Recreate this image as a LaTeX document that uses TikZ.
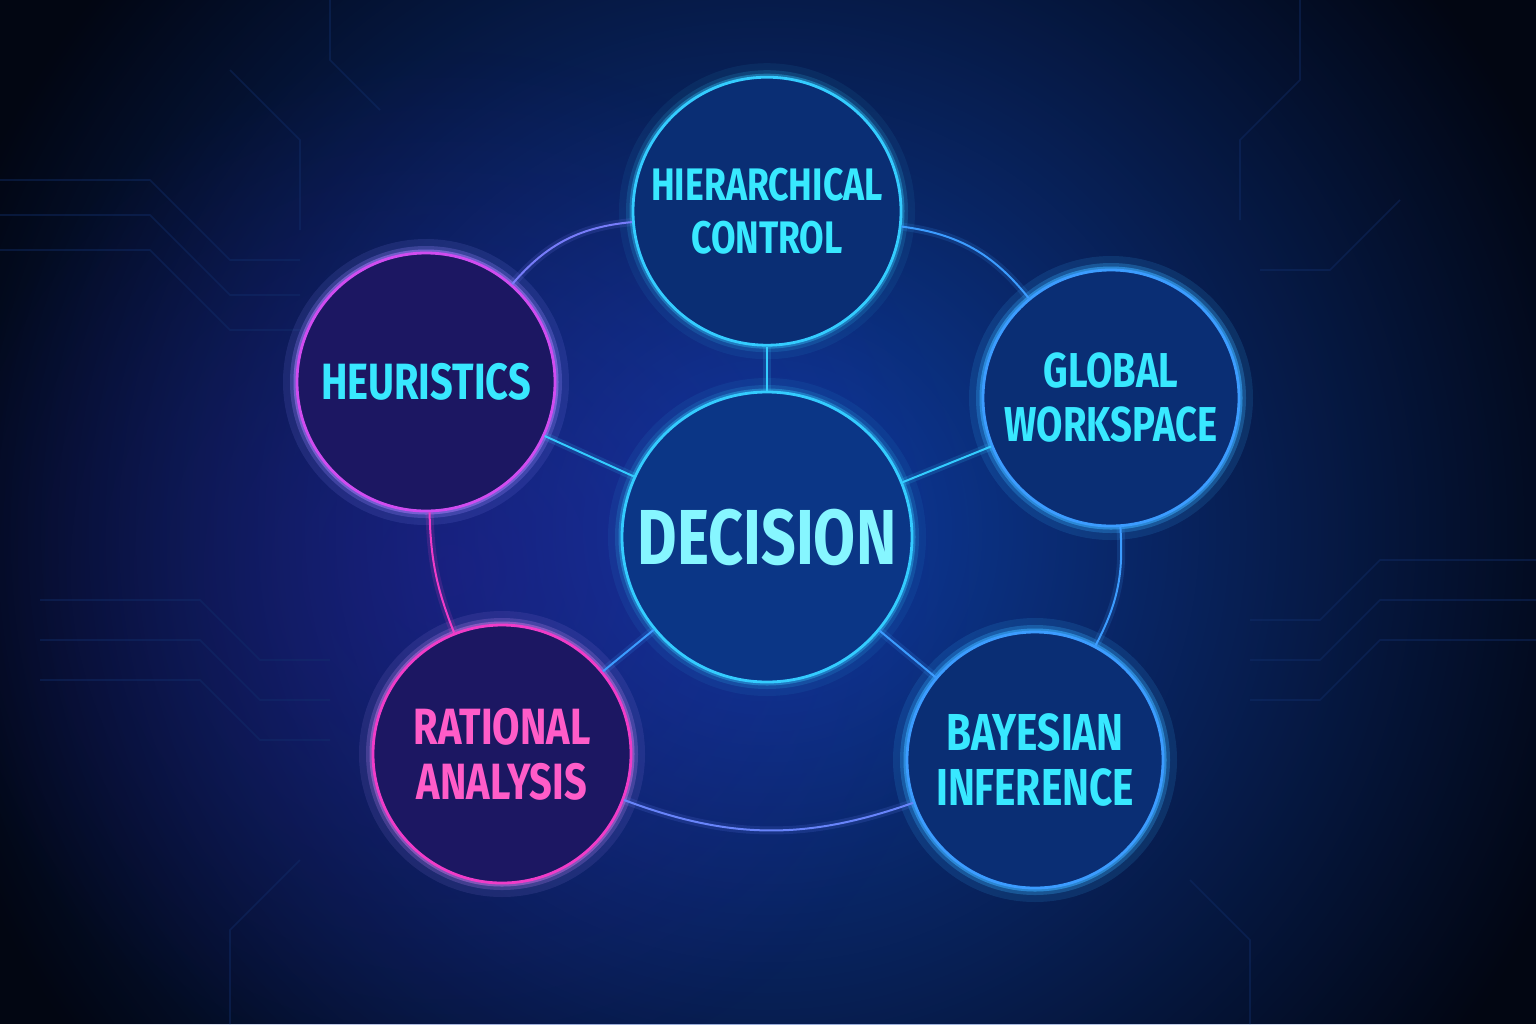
\documentclass[tikz,border=0pt]{standalone}
\usepackage{fontspec}
\setmainfont{Fira Sans}[FakeStretch=0.78]
\usetikzlibrary{positioning,fadings}

\definecolor{bgdark}{HTML}{020612}
\definecolor{bgglow}{HTML}{0E3EA4}
\definecolor{bgviolet}{HTML}{2C1898}
\definecolor{trace}{HTML}{12306E}
\definecolor{ringblue}{HTML}{34CCFF}
\definecolor{ringazure}{HTML}{3C9CFF}
\definecolor{ringviolet}{HTML}{D04CF0}
\definecolor{ringpink}{HTML}{F03CC8}
\definecolor{fillblue}{HTML}{0A2E74}
\definecolor{fillcore}{HTML}{0B3686}
\definecolor{fillviolet}{HTML}{1C1762}
\definecolor{textcyan}{HTML}{38E8FF}
\definecolor{textcore}{HTML}{86F6FF}
\definecolor{textpink}{HTML}{FF5CC8}

\tikzfading[name=glowfade, inner color=transparent!0, outer color=transparent!100]

\tikzset{
    glowring/.style={circle, draw=#1, line width=1.4pt,
        preaction={draw=#1, line width=14pt, opacity=0.07},
        preaction={draw=#1, line width=7pt, opacity=0.15},
        preaction={draw=#1, line width=3.5pt, opacity=0.35}},
    concept/.style={glowring=ringblue, fill=fillblue, text=textcyan, align=center,
        font=\bfseries\fontsize{25.5}{27.5}\selectfont},
    core/.style={concept, fill=fillcore, text=textcore, minimum size=145pt,
        font=\bfseries\fontsize{39}{44}\selectfont},
    azure/.style={concept, glowring=ringazure},
    violet/.style={concept, glowring=ringviolet, fill=fillviolet},
    pink/.style={concept, glowring=ringpink, fill=fillviolet, text=textpink},
    link/.style={draw=#1, line width=1pt,
        preaction={draw=#1, line width=4pt, opacity=0.15}},
    trace/.style={draw=trace, line width=0.8pt, opacity=0.4},
}

\begin{document}
\begin{tikzpicture}[x=0.5pt, y=-0.5pt]
    \useasboundingbox (0,0) rectangle (1536,1024);
    \clip (0,0) rectangle (1536,1024);
    % background
    \fill[bgdark] (0,0) rectangle (1536,1024);
    \fill[bgglow, path fading=glowfade] (767,530) circle (860);
    \fill[bgviolet, path fading=glowfade, opacity=0.45] (450,570) circle (520);
    % faint circuit traces
    \foreach \y in {180,215,250} {
        \draw[trace] (0,\y) -- (150,\y) -- (230,\y+80) -- (300,\y+80);
    }
    \draw[trace] (230,70) -- (300,140) -- (300,230);
    \draw[trace] (330,0) -- (330,60) -- (380,110);
    \foreach \y in {600,640,680} {
        \draw[trace] (40,\y) -- (200,\y) -- (260,\y+60) -- (330,\y+60);
    }
    \draw[trace] (230,1024) -- (230,930) -- (300,860);
    \foreach \y in {560,600,640} {
        \draw[trace] (1536,\y) -- (1380,\y) -- (1320,\y+60) -- (1250,\y+60);
    }
    \draw[trace] (1300,0) -- (1300,80) -- (1240,140) -- (1240,220);
    \draw[trace] (1400,200) -- (1330,270) -- (1260,270);
    \draw[trace] (1250,1024) -- (1250,940) -- (1190,880);

    % concepts
    \node[core]                                 (dec)   at (767,537) {DECISION};
    \node[concept, minimum size=134pt, above=22pt of dec,
          font=\bfseries\fontsize{22.8}{26.5}\selectfont] (hier) {HIERARCHICAL\\CONTROL};
    \node[violet, minimum size=129pt]           (heur)  at (426,382) {HEURISTICS};
    \node[azure, minimum size=128pt,
          font=\bfseries\fontsize{24.5}{27}\selectfont] (glob) at (1111,398) {GLOBAL\\WORKSPACE};
    \node[pink, minimum size=129pt]             (rat)   at (502,754) {RATIONAL\\ANALYSIS};
    \node[azure, minimum size=128pt,
          font=\bfseries\fontsize{26}{27.5}\selectfont] (bayes) at (1035,760) {BAYESIAN\\INFERENCE};

    % spokes
    \draw[link=ringblue]  (dec) -- (hier);
    \draw[link=ringblue]  (dec) -- (heur);
    \draw[link=ringblue]  (dec) -- (glob);
    \draw[link=ringazure] (dec) -- (rat);
    \draw[link=ringazure] (dec) -- (bayes);

    % outer ring
    \draw[link=ringazure!60!ringviolet] (heur)  to[bend left=22] (hier);
    \draw[link=ringazure]               (hier)  to[bend left=22] (glob);
    \draw[link=ringazure]               (glob)  to[bend left=16] (bayes);
    \draw[link=ringazure!70!ringviolet] (bayes) to[bend left=20] (rat);
    \draw[link=ringpink]                (rat)   to[bend left=10] (heur);
\end{tikzpicture}
\end{document}
